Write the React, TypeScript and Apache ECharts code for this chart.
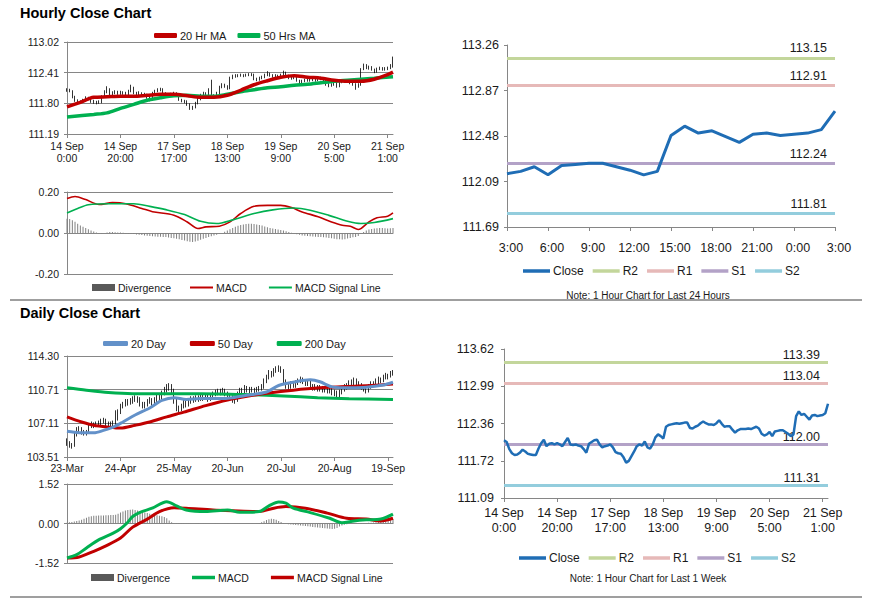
import React, { useEffect, useRef } from "react";
import * as echarts from "echarts";

// ---------- Hourly (last week) data ----------
const hourlyTicks = ["14 Sep\n0:00", "14 Sep\n20:00", "17 Sep\n17:00", "18 Sep\n13:00", "19 Sep\n9:00", "20 Sep\n5:00", "21 Sep\n1:00"];
const hourlyYLabels = ["111.19", "111.80", "112.41", "113.02"];
const hourlyFirstOpen = 112.05;
const hourlyClose = [
  112.07, 112.04, 111.92, 111.85, 111.82, 111.83, 111.86, 111.91, 111.88, 111.84,
  111.83, 111.82, 111.82, 111.93, 112.02, 112.08, 111.97, 112.01, 112.02, 112.0,
  112.02, 112.0, 111.97, 112.04, 112.11, 112.0, 111.99, 112.0, 111.98, 111.97,
  111.92, 111.86, 112.01, 112.04, 112.07, 112.08, 112.0, 111.95, 111.97, 111.98,
  112.0, 111.95, 111.87, 111.85, 111.84, 111.78, 111.69, 111.72, 111.8, 111.88,
  111.97, 112.0, 111.98, 112.05, 111.95, 111.93, 112.0, 112.12, 112.17, 112.14,
  112.1, 112.3, 112.33, 112.34, 112.35, 112.36, 112.35, 112.36, 112.37, 112.37,
  112.28, 112.27, 112.3, 112.32, 112.36, 112.39, 112.36, 112.34, 112.34, 112.33,
  112.36, 112.41, 112.35, 112.3, 112.31, 112.31, 112.25, 112.2, 112.24, 112.26,
  112.26, 112.26, 112.27, 112.26, 112.28, 112.3, 112.27, 112.18, 112.15, 112.17,
  112.21, 112.14, 112.22, 112.23, 112.24, 112.24, 112.21, 112.18, 112.14, 112.17,
  112.48, 112.56, 112.5, 112.52, 112.47, 112.42, 112.49, 112.5, 112.48, 112.49,
  112.5, 112.53, 112.69,
];
const hourlyLow = [
  112.03, 112.02, 111.9, 111.83, 111.8, 111.79, 111.81, 111.84, 111.86, 111.81,
  111.79, 111.78, 111.79, 111.8, 111.91, 112.0, 111.95, 111.94, 111.98, 111.97,
  111.97, 111.97, 111.94, 111.95, 112.02, 111.98, 111.96, 111.96, 111.95, 111.93,
  111.89, 111.84, 111.85, 111.99, 112.02, 112.04, 111.98, 111.93, 111.93, 111.95,
  111.96, 111.93, 111.85, 111.82, 111.8, 111.75, 111.67, 111.67, 111.7, 111.78,
  111.86, 111.95, 111.95, 111.96, 111.93, 111.9, 111.91, 111.98, 112.1, 112.11,
  112.07, 112.08, 112.28, 112.31, 112.32, 112.33, 112.32, 112.33, 112.34, 112.34,
  112.26, 112.24, 112.25, 112.28, 112.3, 112.34, 112.33, 112.31, 112.31, 112.3,
  112.31, 112.34, 112.33, 112.28, 112.27, 112.28, 112.23, 112.18, 112.18, 112.22,
  112.23, 112.23, 112.24, 112.23, 112.24, 112.26, 112.24, 112.15, 112.12, 112.13,
  112.15, 112.11, 112.12, 112.2, 112.21, 112.21, 112.18, 112.15, 112.07, 112.11,
  112.15, 112.46, 112.48, 112.47, 112.45, 112.4, 112.41, 112.46, 112.45, 112.45,
  112.46, 112.48, 112.51,
];
const hourlyHigh = [
  112.1, 112.09, 112.06, 111.95, 111.88, 111.86, 111.89, 111.94, 111.93, 111.9,
  111.87, 111.85, 111.86, 111.96, 112.06, 112.14, 112.1, 112.04, 112.06, 112.05,
  112.05, 112.04, 112.03, 112.07, 112.17, 112.13, 112.03, 112.04, 112.02, 112.01,
  111.99, 111.95, 112.03, 112.07, 112.1, 112.11, 112.1, 112.02, 112.0, 112.01,
  112.03, 112.02, 111.97, 111.89, 111.87, 111.86, 111.8, 111.75, 111.83, 111.91,
  111.99, 112.03, 112.02, 112.1, 112.27, 111.98, 112.03, 112.15, 112.2, 112.19,
  112.16, 112.33, 112.37, 112.38, 112.38, 112.39, 112.38, 112.39, 112.4, 112.4,
  112.39, 112.31, 112.33, 112.35, 112.39, 112.44, 112.41, 112.38, 112.38, 112.37,
  112.39, 112.45, 112.43, 112.37, 112.34, 112.34, 112.33, 112.27, 112.27, 112.29,
  112.29, 112.29, 112.3, 112.29, 112.31, 112.33, 112.32, 112.29, 112.2, 112.2,
  112.24, 112.23, 112.25, 112.26, 112.27, 112.27, 112.26, 112.23, 112.2, 112.2,
  112.5, 112.59, 112.58, 112.55, 112.54, 112.49, 112.51, 112.53, 112.52, 112.52,
  112.53, 112.58, 112.73,
];
const hourlyMa20 = [
  [0, 111.73], [5, 111.82], [10, 111.92], [15, 111.93], [20, 111.94], [25, 111.94], [30, 111.96],
  [35, 111.98], [40, 111.98], [45, 111.95], [50, 111.92], [55, 111.92], [60, 111.96], [65, 112.06],
  [70, 112.17], [75, 112.25], [80, 112.32], [85, 112.35], [90, 112.32], [95, 112.3], [100, 112.26],
  [105, 112.24], [110, 112.24], [115, 112.28], [120, 112.37], [122, 112.42],
];
const hourlyMa50 = [
  [0, 111.53], [10, 111.58], [15, 111.61], [20, 111.7], [25, 111.78], [30, 111.86], [35, 111.91],
  [40, 111.95], [45, 111.96], [50, 111.94], [55, 111.94], [60, 111.98], [65, 112.03], [70, 112.07],
  [75, 112.11], [80, 112.13], [85, 112.16], [90, 112.18], [95, 112.21], [100, 112.24], [105, 112.26],
  [110, 112.28], [115, 112.3], [122, 112.33],
];
const hourlyMacd = [
  [0, 0.168], [3, 0.178], [7, 0.163], [12, 0.139], [17, 0.148], [22, 0.143], [28, 0.12], [32, 0.104],
  [40, 0.087], [45, 0.054], [49, 0.022], [52, 0.03], [57, 0.033], [61, 0.054], [65, 0.095], [70, 0.13],
  [75, 0.135], [80, 0.135], [84, 0.124], [88, 0.103], [94, 0.079], [99, 0.054], [103, 0.038],
  [106, 0.033], [109, 0.017], [113, 0.054], [116, 0.074], [120, 0.082], [122, 0.098],
];
const hourlySignal = [
  [0, 0.098], [4, 0.12], [8, 0.138], [16, 0.143], [25, 0.143], [31, 0.13], [37, 0.114], [44, 0.09],
  [50, 0.057], [56, 0.046], [62, 0.064], [70, 0.095], [77, 0.113], [85, 0.122], [91, 0.111],
  [98, 0.086], [105, 0.057], [110, 0.046], [115, 0.051], [122, 0.07],
];
const hourlyDivergence = [
  0.07, 0.068, 0.062, 0.055, 0.045, 0.037, 0.03, 0.024, 0.018, 0.012,
  0.007, 0.003, -0.002, -0.003, 0.0, 0.003, 0.005, 0.005, 0.004, 0.003,
  0.002, 0.001, -0.001, -0.002, -0.004, -0.005, -0.007, -0.008, -0.01, -0.012,
  -0.014, -0.015, -0.016, -0.017, -0.018, -0.018, -0.019, -0.02, -0.022, -0.024,
  -0.026, -0.028, -0.031, -0.034, -0.037, -0.04, -0.043, -0.044, -0.042, -0.038,
  -0.033, -0.028, -0.024, -0.02, -0.016, -0.012, -0.008, -0.004, 0.0, 0.006,
  0.012, 0.018, 0.024, 0.03, 0.035, 0.039, 0.042, 0.044, 0.045, 0.045,
  0.044, 0.042, 0.039, 0.036, 0.032, 0.028, 0.025, 0.022, 0.019, 0.017,
  0.015, 0.012, 0.009, 0.005, 0.001, -0.003, -0.006, -0.009, -0.012, -0.014,
  -0.015, -0.016, -0.017, -0.018, -0.019, -0.02, -0.021, -0.022, -0.024, -0.026,
  -0.028, -0.03, -0.031, -0.032, -0.03, -0.027, -0.024, -0.021, -0.02, -0.015,
  -0.005, 0.005, 0.012, 0.017, 0.02, 0.022, 0.023, 0.024, 0.024, 0.023,
  0.022, 0.023, 0.025,
];
const macdHourlyYLabels = ["-0.20", "0.00", "0.20"];

// ---------- Last 24 hours / last week levels ----------
const dayStartIndex = 98;
const dayTicks = ["3:00", "6:00", "9:00", "12:00", "15:00", "18:00", "21:00", "0:00", "3:00"];
const dayYLabels = ["111.69", "112.09", "112.48", "112.87", "113.26"];
const levelNames = ["R2", "R1", "S1", "S2"];
const dayLevels = [113.15, 112.91, 112.24, 111.81];
const weekLevels = [113.39, 113.04, 112.0, 111.31];
const weekYLabels = ["111.09", "111.72", "112.36", "112.99", "113.62"];

// ---------- Daily data ----------
const dailyTicks = ["23-Mar", "24-Apr", "25-May", "20-Jun", "20-Jul", "20-Aug", "19-Sep"];
const dailyYLabels = ["103.51", "107.11", "110.71", "114.30"];
const dailyFirstOpen = 105.3;
const dailyClose = [
  105.0, 104.8, 104.7, 105.9, 106.4, 106.5, 106.2, 106.0, 106.1, 106.8,
  107.0, 106.9, 107.0, 107.1, 107.3, 107.4, 107.1, 107.0, 106.9, 107.1,
  107.6, 108.3, 108.9, 109.1, 109.4, 109.3, 109.5, 109.6, 109.8, 109.7,
  109.2, 109.0, 109.1, 109.4, 109.6, 109.3, 109.6, 110.0, 109.9, 110.3,
  110.7, 110.9, 111.1, 110.6, 109.5, 108.7, 108.6, 108.9, 109.3, 109.1,
  109.4, 109.7, 109.6, 109.8, 109.7, 109.9, 109.8, 110.0, 109.7, 109.9,
  110.2, 110.4, 110.5, 110.4, 110.6, 110.3, 110.1, 109.9, 109.6, 109.5,
  110.3, 110.6, 110.5, 110.7, 110.8, 110.6, 110.7, 110.6, 110.7, 110.8,
  111.0, 111.6, 112.0, 112.5, 112.3, 112.7, 112.9, 113.0, 112.8, 111.6,
  111.1, 111.0, 111.3, 111.2, 111.4, 111.6, 111.9, 111.6, 111.4, 111.5,
  111.1, 110.9, 111.0, 110.8, 110.9, 110.7, 110.8, 110.6, 110.7, 110.5,
  110.3, 110.2, 110.4, 110.8, 111.0, 111.1, 111.4, 111.5, 111.7, 111.4,
  111.2, 111.0, 110.8, 110.6, 111.0, 111.3, 111.3, 111.6, 111.8, 111.7,
  112.0, 112.2, 112.1, 112.4, 112.6,
];
const dailyLow = [
  104.7, 104.5, 104.4, 104.6, 105.7, 106.1, 105.9, 105.8, 105.8, 106.0,
  106.6, 106.6, 106.7, 106.8, 106.9, 107.1, 106.8, 106.7, 106.6, 106.7,
  106.9, 107.4, 108.1, 108.7, 108.9, 109.0, 109.1, 109.2, 109.4, 109.3,
  108.9, 108.7, 108.7, 108.9, 109.2, 109.0, 109.1, 109.4, 109.6, 109.7,
  110.1, 110.4, 110.6, 110.3, 109.2, 108.4, 108.3, 108.4, 108.7, 108.8,
  108.9, 109.2, 109.3, 109.4, 109.4, 109.5, 109.5, 109.6, 109.4, 109.5,
  109.7, 110.0, 110.1, 110.1, 110.2, 110.0, 109.8, 109.6, 109.3, 109.2,
  109.4, 110.1, 110.2, 110.3, 110.4, 110.3, 110.4, 110.3, 110.4, 110.5,
  110.6, 110.8, 111.4, 111.8, 112.0, 112.1, 112.5, 112.6, 112.5, 111.3,
  110.8, 110.7, 110.8, 110.9, 110.9, 111.2, 111.4, 111.3, 111.1, 111.1,
  110.8, 110.6, 110.6, 110.5, 110.5, 110.4, 110.4, 110.3, 110.3, 110.1,
  110.0, 109.9, 109.9, 110.2, 110.5, 110.7, 110.9, 111.1, 111.2, 111.1,
  110.9, 110.7, 110.5, 110.3, 110.4, 110.8, 111.0, 111.1, 111.3, 111.4,
  111.5, 111.8, 111.8, 112.0, 112.2,
];
const dailyHigh = [
  105.5, 105.2, 105.0, 106.1, 106.7, 106.8, 106.7, 106.4, 106.4, 107.0,
  107.3, 107.2, 107.3, 107.4, 107.6, 107.7, 107.6, 107.3, 107.3, 107.4,
  108.5, 108.6, 109.2, 109.4, 109.7, 109.7, 109.8, 110.0, 110.1, 110.0,
  109.9, 109.4, 109.4, 109.7, 109.9, 109.8, 109.9, 110.3, 110.2, 110.6,
  111.0, 111.3, 111.4, 111.3, 110.8, 109.7, 109.0, 109.2, 109.6, 109.5,
  109.7, 110.0, 110.0, 110.1, 110.1, 110.2, 110.2, 110.3, 110.2, 110.2,
  110.5, 110.7, 110.8, 110.8, 110.9, 110.8, 110.5, 110.3, 110.1, 109.9,
  110.5, 110.9, 110.9, 111.2, 111.1, 111.0, 111.0, 110.9, 111.0, 111.1,
  111.3, 111.9, 112.3, 112.8, 112.7, 113.0, 113.2, 113.3, 113.2, 112.9,
  111.8, 111.4, 111.6, 111.6, 111.7, 111.9, 112.1, 112.0, 111.8, 111.8,
  111.7, 111.3, 111.3, 111.2, 111.2, 111.1, 111.1, 111.0, 111.0, 110.9,
  110.7, 110.6, 110.7, 111.1, 111.3, 111.4, 111.7, 111.8, 112.0, 111.9,
  111.6, 111.4, 111.2, 111.0, 111.3, 111.6, 111.6, 111.9, 112.1, 112.0,
  112.3, 112.5, 112.4, 112.7, 112.8,
];
const daily20 = [
  [0, 106.25], [5, 106.1], [11, 106.1], [15, 106.35], [19, 106.7], [23, 107.25], [28, 108.0],
  [34, 108.75], [39, 109.55], [44, 109.85], [49, 109.65], [55, 109.75], [63, 109.75], [68, 109.85],
  [74, 110.1], [82, 110.45], [87, 111.15], [93, 111.5], [100, 111.75], [104, 111.55], [109, 111.0],
  [117, 110.9], [123, 110.95], [130, 111.2], [134, 111.5],
];
const daily50 = [
  [0, 107.8], [6, 107.25], [11, 106.9], [17, 106.7], [22, 106.6], [28, 106.9], [34, 107.25],
  [41, 107.8], [48, 108.3], [57, 109.0], [66, 109.6], [74, 110.0], [83, 110.35], [93, 110.65],
  [104, 110.9], [115, 111.05], [125, 111.15], [134, 111.3],
];
const daily200 = [
  [0, 110.92], [8, 110.65], [17, 110.4], [27, 110.28], [55, 110.28], [75, 110.17], [89, 110.03],
  [103, 109.85], [116, 109.74], [134, 109.64],
];
const dailyMacd = [
  [0, -1.33], [4, -1.2], [8, -0.94], [13, -0.63], [19, -0.37], [22, -0.2], [25, 0.05], [27, 0.27],
  [30, 0.43], [35, 0.59], [41, 0.84], [45, 0.68], [49, 0.52], [57, 0.46], [66, 0.52], [71, 0.43],
  [79, 0.46], [83, 0.68], [87, 0.83], [90, 0.78], [93, 0.59], [100, 0.42], [108, 0.2], [113, 0.03],
  [118, 0.1], [123, 0.14], [129, 0.17], [134, 0.36],
];
const dailySignal = [
  [0, -1.33], [5, -1.29], [11, -1.07], [16, -0.86], [22, -0.56], [27, -0.14], [33, 0.17], [38, 0.46],
  [44, 0.61], [49, 0.59], [60, 0.52], [68, 0.49], [79, 0.46], [85, 0.59], [90, 0.65], [98, 0.59],
  [107, 0.4], [115, 0.2], [123, 0.17], [129, 0.1], [134, 0.2],
];
const dailyDivergence = [
  0.03, 0.05, 0.06, 0.08, 0.1, 0.12, 0.14, 0.18, 0.22, 0.26,
  0.28, 0.3, 0.3, 0.31, 0.31, 0.31, 0.32, 0.32, 0.33, 0.33,
  0.34, 0.38, 0.42, 0.46, 0.5, 0.52, 0.53, 0.54, 0.52, 0.5,
  0.47, 0.44, 0.42, 0.4, 0.38, 0.36, 0.34, 0.32, 0.3, 0.28,
  0.25, 0.2, 0.12, 0.05, 0.01, -0.02, -0.02, -0.02, -0.01, -0.01,
  -0.01, -0.01, 0.0, -0.01, -0.01, 0.0, -0.01, -0.01, 0.0, 0.0,
  0.0, -0.01, -0.01, 0.0, 0.0, -0.01, -0.01, 0.0, 0.0, -0.01,
  -0.01, -0.01, 0.0, 0.0, 0.0, 0.0, -0.01, 0.0, 0.01, 0.02,
  0.05, 0.09, 0.13, 0.16, 0.18, 0.17, 0.14, 0.1, 0.06, 0.02,
  -0.01, -0.03, -0.04, -0.05, -0.06, -0.07, -0.08, -0.09, -0.1, -0.11,
  -0.12, -0.13, -0.14, -0.15, -0.16, -0.17, -0.18, -0.19, -0.2, -0.21,
  -0.2, -0.17, -0.12, -0.08, -0.05, -0.03, -0.02, -0.01, 0.0, 0.01,
  0.01, 0.02, 0.02, 0.02, 0.03, 0.03, 0.04, 0.05, 0.06, 0.07,
  0.08, 0.1, 0.12, 0.14, 0.16,
];
const macdDailyYLabels = ["-1.52", "0.00", "1.52"];

// ---------- styling ----------
const SANS = "'Liberation Sans', Arial, sans-serif";
const NARROW = "'Liberation Sans Narrow', 'Arial Narrow', 'Liberation Sans', Arial, sans-serif";
const GREY = "#868686";
const TEXT = "#1a1a1a";
const RED = "#c00000";
const GREEN = "#00b050";
const BLUE_MA = "#6391c9";
const CLOSE = "#1f6db5";
const DIV = "#808080";
const levelColors = ["#c3d69b", "#e6b9b8", "#b3a2c7", "#93cddd"];

const hourlyCategories = hourlyClose.map((_, i) => String(i));
const dayCategories = hourlyClose.slice(dayStartIndex).map((_, i) => String(i));
const dailyCategories = dailyClose.map((_, i) => String(i));

const toOHLC = (first: number, close: number[], low: number[], high: number[]) =>
  close.map((c, i) => [i === 0 ? first : close[i - 1], c, low[i], high[i]]);

function catAxis(gridIndex: number, cats: string[], every: number, labels: string[], show: boolean, font: string, size: number, margin: number, lineHeight: number, pad?: number[]) {
  return {
    type: "category",
    gridIndex,
    data: cats,
    boundaryGap: false,
    axisLine: { show: true, onZero: true, lineStyle: { color: GREY, width: 1 } },
    axisTick: { show, length: 4, interval: (i: number) => i % every === 0, lineStyle: { color: GREY } },
    axisLabel: {
      show,
      interval: (i: number) => i % every === 0,
      formatter: (_v: string, i: number) => labels[i / every] ?? "",
      fontFamily: font,
      fontSize: size,
      color: TEXT,
      margin,
      lineHeight,
      padding: pad ?? 0,
    },
    splitLine: { show: false },
  };
}

function valAxis(gridIndex: number, min: number, max: number, count: number, labels: string[], split: boolean, font: string, size: number, margin: number) {
  const step = (max - min) / count;
  return {
    type: "value",
    gridIndex,
    min,
    max,
    interval: step,
    axisLine: { show: true, lineStyle: { color: GREY, width: 1 } },
    axisTick: { show: true, length: 3, lineStyle: { color: GREY } },
    splitLine: { show: split, lineStyle: { color: GREY, width: 1 } },
    axisLabel: {
      fontFamily: font,
      fontSize: size,
      color: TEXT,
      margin,
      formatter: (v: number) => labels[Math.round((v - min) / step)] ?? "",
    },
  };
}

function lineSeries(name: string, x: number, data: any[], color: string, width: number, z = 3) {
  return {
    type: "line",
    name,
    xAxisIndex: x,
    yAxisIndex: x,
    data,
    symbol: "none",
    smooth: 0.3,
    z,
    itemStyle: { color },
    lineStyle: { color, width },
  };
}

function levelSeries(x: number, levels: number[], dist: number[]) {
  return levelNames.map((name, k) => ({
    type: "line",
    name,
    xAxisIndex: x,
    yAxisIndex: x,
    data: [],
    z: 2,
    itemStyle: { color: levelColors[k] },
    lineStyle: { color: levelColors[k] },
    markLine: {
      silent: true,
      symbol: ["none", "none"],
      data: [{ yAxis: levels[k] }],
      lineStyle: { color: levelColors[k], width: 3, type: "solid" },
      label: {
        show: true,
        position: "insideEndTop",
        distance: dist,
        formatter: levels[k].toFixed(2),
        fontFamily: NARROW,
        fontSize: 12.5,
        color: TEXT,
      },
      emphasis: { disabled: true },
    },
  }));
}

function legend(left: number, top: number, items: { name: string; color: string }[], w: number, h: number, gap: number, font: string, size: number, icon = "rect") {
  return {
    left,
    top,
    padding: 0,
    itemWidth: w,
    itemHeight: h,
    itemGap: gap,
    selectedMode: false,
    icon,
    textStyle: { fontFamily: font, fontSize: size, color: TEXT, padding: [0, 0, 0, -2] },
    data: items.map((it) => ({ name: it.name, icon, itemStyle: { color: it.color } })),
  };
}

function buildOption() {
  const gridBase = { containLabel: false, outerBoundsMode: "none" };
  const levelLegendItems = levelNames.map((n, k) => ({ name: n, color: levelColors[k] }));
  return {
    animation: false,
    backgroundColor: "#ffffff",
    title: [
      { text: "Hourly Close Chart", left: 20, top: 5, padding: 0, textStyle: { fontFamily: SANS, fontSize: 14.5, fontWeight: "bold", color: "#000" } },
      { text: "Daily Close Chart", left: 20, top: 305, padding: 0, textStyle: { fontFamily: SANS, fontSize: 14.5, fontWeight: "bold", color: "#000" } },
    ],
    grid: [
      { ...gridBase, left: 67, top: 42, width: 326, height: 92 },
      { ...gridBase, left: 67, top: 192, width: 326, height: 82 },
      { ...gridBase, left: 507, top: 45, width: 328, height: 182 },
      { ...gridBase, left: 67, top: 356, width: 326, height: 101 },
      { ...gridBase, left: 67, top: 484, width: 326, height: 79 },
      { ...gridBase, left: 504, top: 349, width: 324, height: 149 },
    ],
    xAxis: [
      catAxis(0, hourlyCategories, 20, hourlyTicks, true, SANS, 10.5, 6, 12),
      catAxis(1, hourlyCategories, 20, [], false, SANS, 10.5, 6, 12),
      catAxis(2, dayCategories, 3, dayTicks, true, NARROW, 12.5, 13, 15, [0, 0, 0, 8]),
      catAxis(3, dailyCategories, 22, dailyTicks, true, SANS, 10.5, 5, 12),
      catAxis(4, dailyCategories, 22, [], false, SANS, 10.5, 6, 12),
      catAxis(5, hourlyCategories, 20, hourlyTicks, true, NARROW, 12.5, 8, 14.5),
    ],
    yAxis: [
      valAxis(0, 111.19, 113.02, 3, hourlyYLabels, true, SANS, 10.5, 8),
      valAxis(1, -0.2, 0.2, 2, macdHourlyYLabels, true, SANS, 10.5, 8),
      valAxis(2, 111.69, 113.26, 4, dayYLabels, false, NARROW, 12.5, 8),
      valAxis(3, 103.51, 114.3, 3, dailyYLabels, true, SANS, 10.5, 8),
      valAxis(4, -1.52, 1.52, 2, macdDailyYLabels, true, SANS, 10.5, 8),
      valAxis(5, 111.09, 113.62, 4, weekYLabels, false, NARROW, 12.5, 10),
    ],
    legend: [
      legend(154, 30, [{ name: "20 Hr MA", color: RED }, { name: "50 Hrs MA", color: GREEN }], 23, 5, 11, SANS, 11, "roundRect"),
      legend(92, 282, [{ name: "Divergence", color: "#595959" }], 23, 7, 10, SANS, 10.5),
      legend(190, 282, [{ name: "MACD", color: RED }, { name: "MACD Signal Line", color: GREEN }], 23, 2, 22, SANS, 10.5),
      legend(523, 265, [{ name: "Close", color: CLOSE }, ...levelLegendItems], 27, 3.5, 9, NARROW, 12),
      legend(103, 338, [{ name: "20 Day", color: BLUE_MA }, { name: "50 Day", color: RED }, { name: "200 Day", color: GREEN }], 25, 5, 24, SANS, 11, "roundRect"),
      legend(91, 572, [{ name: "Divergence", color: "#595959" }], 23, 7, 10, SANS, 10.5),
      legend(192, 572, [{ name: "MACD", color: GREEN }, { name: "MACD Signal Line", color: RED }], 23, 3.5, 22, SANS, 10.5),
      legend(519, 552, [{ name: "Close", color: CLOSE }, ...levelLegendItems], 27, 3.5, 9, NARROW, 12),
    ],
    series: [
      {
        type: "candlestick",
        name: "Hourly",
        xAxisIndex: 0,
        yAxisIndex: 0,
        data: toOHLC(hourlyFirstOpen, hourlyClose, hourlyLow, hourlyHigh),
        barWidth: 1,
        z: 2,
        itemStyle: { color: "#000", color0: "#000", borderColor: "#000", borderColor0: "#000", borderWidth: 0.8 },
      },
      lineSeries("50 Hrs MA", 0, hourlyMa50, GREEN, 3.5),
      lineSeries("20 Hr MA", 0, hourlyMa20, RED, 3.5, 4),
      { type: "bar", name: "Divergence", xAxisIndex: 1, yAxisIndex: 1, data: hourlyDivergence, barWidth: 1, itemStyle: { color: DIV } },
      lineSeries("MACD", 1, hourlyMacd, RED, 1.6),
      lineSeries("MACD Signal Line", 1, hourlySignal, GREEN, 1.6),
      { ...lineSeries("Close", 2, hourlyClose.slice(dayStartIndex), CLOSE, 3, 5), smooth: false },
      ...levelSeries(2, dayLevels, [8, 3]),
      {
        type: "candlestick",
        name: "Daily",
        xAxisIndex: 3,
        yAxisIndex: 3,
        data: toOHLC(dailyFirstOpen, dailyClose, dailyLow, dailyHigh),
        barWidth: 1.2,
        z: 2,
        itemStyle: { color: "#000", color0: "#000", borderColor: "#000", borderColor0: "#000", borderWidth: 0.8 },
      },
      lineSeries("200 Day", 3, daily200, GREEN, 3),
      lineSeries("50 Day", 3, daily50, RED, 3),
      lineSeries("20 Day", 3, daily20, BLUE_MA, 3),
      { type: "bar", name: "Divergence", xAxisIndex: 4, yAxisIndex: 4, data: dailyDivergence, barWidth: 1, itemStyle: { color: DIV } },
      lineSeries("MACD Signal Line", 4, dailySignal, RED, 3),
      lineSeries("MACD", 4, dailyMacd, GREEN, 3, 4),
      { ...lineSeries("Close", 5, hourlyClose, CLOSE, 2.5, 5), smooth: false },
      ...levelSeries(5, weekLevels, [8, 1]),
    ],
    graphic: [
      { type: "line", shape: { x1: 10, y1: 300, x2: 862, y2: 300 }, style: { stroke: "#7f7f7f", lineWidth: 1.5 } },
      { type: "line", shape: { x1: 10, y1: 597, x2: 862, y2: 597 }, style: { stroke: "#7f7f7f", lineWidth: 1.5 } },
      { type: "text", x: 648, y: 295, style: { text: "Note: 1 Hour Chart for Last 24 Hours", fontFamily: NARROW, fontSize: 10, fill: TEXT, align: "center", verticalAlign: "middle" } },
      { type: "text", x: 648, y: 578, style: { text: "Note: 1 Hour Chart for Last 1 Week", fontFamily: NARROW, fontSize: 10, fill: TEXT, align: "center", verticalAlign: "middle" } },
    ],
  };
}

export default function App() {
  const ref = useRef<HTMLDivElement>(null);
  useEffect(() => {
    if (!ref.current) return;
    const chart = echarts.init(ref.current, undefined, { renderer: "svg" });
    chart.setOption(buildOption() as any);
    return () => chart.dispose();
  }, []);
  return (
    <div
      ref={ref}
      style={{ position: "absolute", left: 0, top: 0, width: 873, height: 601, background: "#fff" }}
    />
  );
}
